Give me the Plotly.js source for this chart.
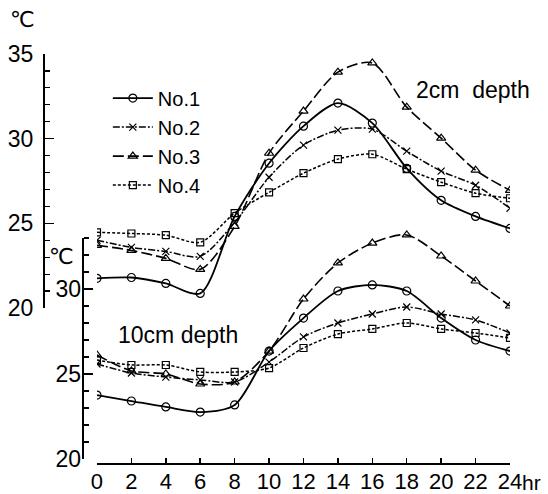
<!DOCTYPE html>
<html>
<head>
<meta charset="utf-8">
<script src="https://cdn.plot.ly/plotly-3.0.1.min.js"></script>
<style>html,body{margin:0;padding:0;background:#fff;}#chart{width:548px;height:494px;}</style>
</head>
<body>
<div id="chart"></div>
<script>
// Hours of day
const hours = [0, 2, 4, 6, 8, 10, 12, 14, 16, 18, 20, 22, 24];
const seriesNames = ['No.1', 'No.2', 'No.3', 'No.4'];

// 2cm depth (outer scale, ℃)
const no1_2cm = [21.75, 21.8, 21.45, 20.86, 25.41, 28.55, 30.74, 32.1, 30.92, 28.25, 26.36, 25.41, 24.7];
const no2_2cm = [24.0, 23.58, 23.34, 23.05, 25.06, 27.72, 29.62, 30.5, 30.56, 29.26, 28.08, 27.25, 25.89];
const no3_2cm = [23.7, 23.4, 22.93, 22.28, 24.82, 29.14, 31.63, 33.93, 34.47, 31.86, 30.03, 28.14, 26.95];
const no4_2cm = [24.47, 24.4, 24.3, 23.88, 25.6, 26.83, 27.96, 28.79, 29.08, 28.2, 27.43, 26.78, 26.48];

// 10cm depth (inner scale, ℃)
const no1_10cm = [23.76, 23.41, 23.06, 22.76, 23.18, 26.35, 28.29, 29.88, 30.24, 29.88, 28.29, 27.0, 26.35];
const no2_10cm = [25.59, 25.06, 24.82, 24.65, 24.53, 25.7, 27.18, 28.0, 28.53, 28.94, 28.53, 28.18, 27.41];
const no3_10cm = [26.12, 25.18, 25.0, 24.41, 24.53, 26.35, 29.41, 31.53, 32.7, 33.18, 31.94, 30.47, 29.0];
const no4_10cm = [25.82, 25.53, 25.53, 25.12, 25.12, 25.35, 26.53, 27.35, 27.65, 28.0, 27.65, 27.41, 27.12];

const xTickVals = [0, 2, 4, 6, 8, 10, 12, 14, 16, 18, 20, 22, 24];
const xTickText = ['0', '2', '4', '6', '8', '10', '12', '14', '16', '18', '20', '22', '24'];

const styles = [
  {dash: 'solid', symbol: 'circle-open', size: 8, width: 1.8},
  {dash: '7px,2px,2px,2px', symbol: 'x-thin-open', size: 7, width: 1.5},
  {dash: '11px,4px', symbol: 'triangle-up-open', size: 8, width: 1.6},
  {dash: '3px,2px', symbol: 'square-open', size: 7, width: 1.5}
];

const data2 = [no1_2cm, no2_2cm, no3_2cm, no4_2cm];
const data10 = [no1_10cm, no2_10cm, no3_10cm, no4_10cm];

const traces = [];
data2.forEach((ys, i) => {
  traces.push({
    x: hours, y: ys, xaxis: 'x', yaxis: 'y', name: seriesNames[i],
    type: 'scatter', mode: 'lines+markers', showlegend: true,
    line: {color: '#000', width: styles[i].width, dash: styles[i].dash, shape: 'spline', smoothing: 0.8},
    marker: {symbol: styles[i].symbol, size: styles[i].size, color: '#000', line: {color: '#000', width: 1.2}}
  });
});
data10.forEach((ys, i) => {
  traces.push({
    x: hours, y: ys, xaxis: 'x', yaxis: 'y2', name: seriesNames[i],
    type: 'scatter', mode: 'lines+markers', showlegend: false,
    line: {color: '#000', width: styles[i].width, dash: styles[i].dash, shape: 'spline', smoothing: 0.8},
    marker: {symbol: styles[i].symbol, size: styles[i].size, color: '#000', line: {color: '#000', width: 1.2}}
  });
});

const font = 'Liberation Sans, Arial, sans-serif';
const y2pos = 0.0837;

function note(text, x, y, fam, size) {
  return {text: text, xref: 'paper', yref: 'paper', x: x, y: y, xanchor: 'center', yanchor: 'middle',
          showarrow: false, font: {family: fam || font, size: size || 23, color: '#000'}};
}

const layout = {
  width: 548, height: 494,
  margin: {l: 44, r: 38, t: 54, b: 30},
  paper_bgcolor: '#fff', plot_bgcolor: 'rgba(0,0,0,0)',
  font: {family: font, color: '#000', size: 23},
  showlegend: true,
  legend: {
    x: 0.137, y: 0.94, xanchor: 'left', yanchor: 'top',
    bgcolor: 'rgba(0,0,0,0)', borderwidth: 0,
    font: {family: font, size: 20, color: '#000'},
    itemwidth: 40, tracegroupgap: 0
  },
  xaxis: {
    domain: [0.1137, 1], range: [0, 24], anchor: 'free', position: 0,
    showline: true, linecolor: '#000', linewidth: 2,
    ticks: 'inside', ticklen: 5, tickwidth: 1.5, tickcolor: '#000',
    tickvals: xTickVals, ticktext: xTickText,
    showgrid: false, zeroline: false,
    ticklabelstandoff: -2,
    tickfont: {family: font, size: 22, color: '#000'}
  },
  yaxis: {
    domain: [0.3805, 1], range: [20, 35], anchor: 'free', position: 0,
    showline: true, linecolor: '#000', linewidth: 2,
    ticks: 'inside', ticklen: 9, tickwidth: 1.5, tickcolor: '#000',
    tick0: 20, dtick: 5,
    minor: {ticks: 'inside', ticklen: 5, tickwidth: 1.2, tickcolor: '#000', dtick: 1, tick0: 20, showgrid: false},
    showgrid: false, zeroline: false,
    ticklabelstandoff: 5,
    tickfont: {family: font, size: 23, color: '#000'}
  },
  yaxis2: {
    domain: [0.0122, 0.572], range: [20, 33.5], anchor: 'free', position: y2pos,
    showline: false,
    ticks: 'inside', ticklen: 9, tickwidth: 1.5, tickcolor: '#000',
    tick0: 20, dtick: 5,
    minor: {ticks: 'inside', ticklen: 5, tickwidth: 1.2, tickcolor: '#000', dtick: 1, tick0: 20, showgrid: false},
    showgrid: false, zeroline: false,
    ticklabelstandoff: 2,
    tickfont: {family: font, size: 23, color: '#000'}
  },
  shapes: [
    {type: 'line', xref: 'paper', yref: 'y2', x0: y2pos, x1: y2pos, y0: 20, y1: 33,
     line: {color: '#000', width: 2}}
  ],
  annotations: [
    note('2cm\u00a0\u00a0depth', 0.9206, 0.912),
    note('10cm depth', 0.2876, 0.3146),
    note('hr', 1.0455, -0.0463, font, 21),
    note('℃', -0.0472, 1.083, 'DejaVu Sans, sans-serif', 22),
    note('℃', 0.0365, 0.507, 'DejaVu Sans, sans-serif', 22)
  ]
};

Plotly.newPlot('chart', traces, layout, {staticPlot: true, displayModeBar: false});
</script>
</body>
</html>
